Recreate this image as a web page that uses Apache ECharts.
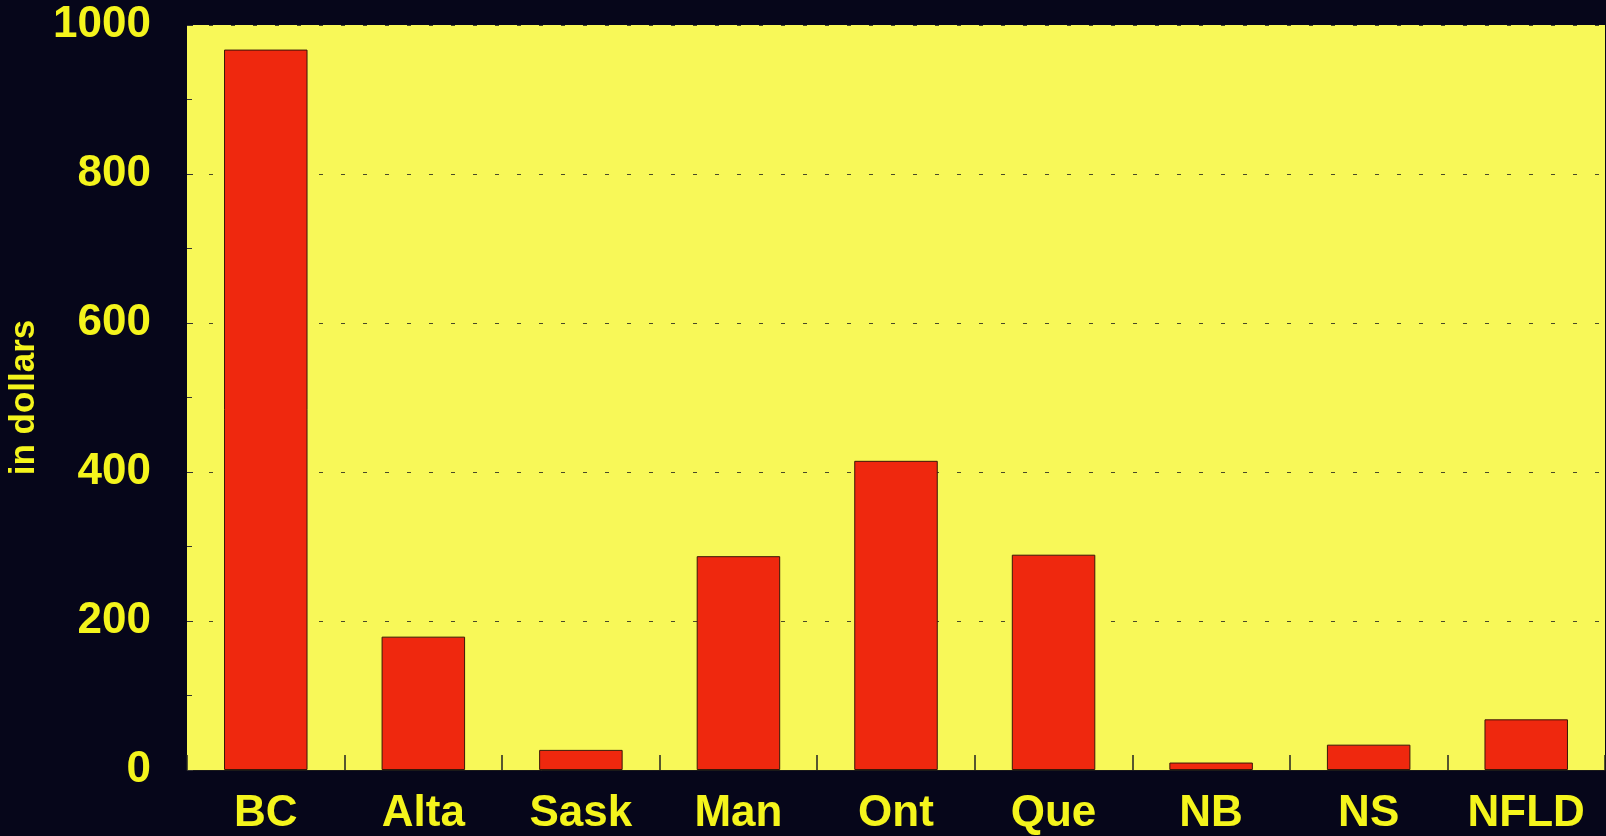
<!DOCTYPE html>
<html>
<head>
<meta charset="utf-8">
<script src="https://cdn.jsdelivr.net/npm/echarts@6/dist/echarts.min.js"></script>
<style>
  html, body { margin: 0; padding: 0; background: #06061a; }
  #chart { width: 1606px; height: 836px; }
</style>
</head>
<body>
<div id="chart"></div>
<script>
// provinces and amounts
const provinces = ['BC', 'Alta', 'Sask', 'Man', 'Ont', 'Que', 'NB', 'NS', 'NFLD']
const dollars = [967, 179, 27, 287, 415, 289, 10, 34, 68]
const yTicks = [0, 200, 400, 600, 800, 1000]

const chart = echarts.init(document.getElementById('chart'))

const labelFont = {
  color: '#f4f41c',
  fontFamily: 'Liberation Sans, Arial, sans-serif',
  fontWeight: 'bold'
}

chart.setOption({
  backgroundColor: '#06061a',
  animation: false,
  grid: {
    left: 187,
    right: 1,
    top: 25,
    bottom: 66,
    outerBoundsMode: 'none',
    containLabel: false,
    show: true,
    backgroundColor: '#f8f858',
    borderWidth: 0
  },
  xAxis: {
    type: 'category',
    data: provinces,
    axisLine: { lineStyle: { color: '#1a1a1a', width: 1 } },
    axisTick: {
      show: true,
      inside: true,
      length: 15,
      interval: 0,
      lineStyle: { color: '#222', width: 1.5 }
    },
    axisLabel: {
      ...labelFont,
      fontSize: 44,
      margin: 22,
      interval: 0
    }
  },
  yAxis: {
    type: 'value',
    min: yTicks[0],
    max: yTicks[yTicks.length - 1],
    interval: 200,
    name: 'in dollars',
    nameLocation: 'middle',
    nameGap: 143,
    nameTextStyle: { ...labelFont, fontSize: 35 },
    axisLine: { show: false },
    axisTick: {
      show: true,
      inside: true,
      length: 6,
      lineStyle: { color: '#333' }
    },
    minorTick: {
      show: true,
      splitNumber: 2,
      length: 5,
      lineStyle: { color: '#333' }
    },
    splitLine: {
      show: true,
      lineStyle: { color: '#4a4a28', width: 1, type: [4, 18] }
    },
    axisLabel: {
      ...labelFont,
      fontSize: 44,
      margin: 36,
      formatter: v => String(v)
    }
  },
  series: [{
    type: 'bar',
    data: dollars,
    barWidth: '53%',
    itemStyle: {
      color: '#ef280e',
      borderColor: '#3a1608',
      borderWidth: 1
    }
  }]
})
</script>
</body>
</html>
